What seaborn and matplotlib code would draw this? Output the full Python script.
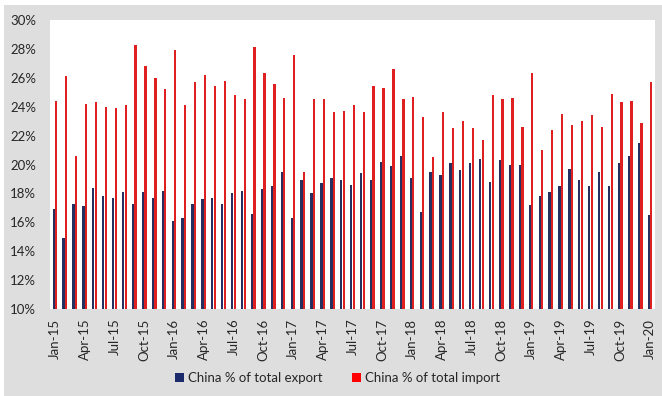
import matplotlib
matplotlib.use("Agg")
import matplotlib.pyplot as plt
import matplotlib.patches as mpatches
from matplotlib.ticker import FuncFormatter
import pandas as pd
import seaborn as sns

months = pd.date_range("2015-01-01", "2020-01-01", freq="MS").strftime("%b-%y").tolist()

export_share = [
    16.9, 14.9, 17.3, 17.1, 18.4, 17.8, 17.7, 18.1, 17.3, 18.1, 17.7, 18.2,
    16.1, 16.3, 17.3, 17.6, 17.7, 17.3, 18.0, 18.2, 16.6, 18.3, 18.5, 19.5,
    16.3, 18.9, 18.0, 18.7, 19.1, 18.9, 18.6, 19.4, 18.9, 20.2, 19.9, 20.6,
    19.1, 16.7, 19.5, 19.3, 20.1, 19.6, 20.1, 20.4, 18.8, 20.3, 20.0, 20.0,
    17.2, 17.8, 18.1, 18.5, 19.7, 18.9, 18.5, 19.5, 18.5, 20.1, 20.6, 21.5,
    16.5,
]
import_share = [
    24.4, 26.1, 20.6, 24.2, 24.3, 24.0, 23.9, 24.1, 28.3, 26.8, 26.0, 25.2,
    27.9, 24.1, 25.7, 26.2, 25.4, 25.8, 24.8, 24.5, 28.1, 26.3, 25.6, 24.6,
    27.6, 19.5, 24.5, 24.5, 23.6, 23.7, 24.1, 23.6, 25.4, 25.3, 26.6, 24.5,
    24.7, 23.3, 20.5, 23.6, 22.5, 23.0, 22.5, 21.7, 24.8, 24.5, 24.6, 22.6,
    26.3, 21.0, 22.4, 23.5, 22.7, 23.0, 23.4, 22.6, 24.9, 24.3, 24.4, 22.9,
    25.7,
]
series_names = ["China % of total export", "China % of total import"]
series_colors = ["#1b2a6b", "#ff0000"]

df = pd.DataFrame({
    "month": months * 2,
    "share": export_share + import_share,
    "series": [series_names[0]] * len(months) + [series_names[1]] * len(months),
})

sns.set_theme(style="white")
plt.rcParams["font.family"] = ["Lato", "DejaVu Sans"]

W, H = 662, 396
fig = plt.figure(figsize=(W / 100, H / 100), dpi=100, facecolor="white")

# grey panel behind the chart
fig.patches.append(mpatches.Rectangle((4 / W, 0), 1 - 4 / W, 1 - 5 / H,
                                      transform=fig.transFigure,
                                      facecolor="#dedede", edgecolor="none", zorder=-10))

ax = fig.add_axes([50 / W, (H - 309) / H, 605 / W, 289 / H])
ax.set_facecolor("white")

sns.barplot(data=df, x="month", y="share", hue="series", order=months,
            hue_order=series_names, palette=series_colors,
            width=0.52, gap=0.12, linewidth=0, ax=ax, legend=False)

ax.set_ylim(10, 30)
ax.set_xlim(-0.5, len(months) - 0.5)
ax.set_yticks(range(10, 31, 2))
ax.yaxis.set_major_formatter(FuncFormatter(lambda v, _: f"{v:.0f}%"))
ax.set_xticks(range(0, len(months), 3))
ax.set_xticklabels(months[::3], rotation=90)
ax.tick_params(axis="x", length=0, pad=7, labelsize=9.5, colors="#262626")
ax.tick_params(axis="y", length=0, pad=10, labelsize=9.5, colors="#262626")
ax.set_xlabel("")
ax.set_ylabel("")
for s in ax.spines.values():
    s.set_visible(False)

handles = [mpatches.Patch(facecolor=c, edgecolor="none", label=n)
           for n, c in zip(series_names, series_colors)]
fig.legend(handles=handles, loc="center", bbox_to_anchor=(0.51, 18 / H), ncol=2,
           frameon=False, fontsize=9.5, handlelength=0.7, handleheight=0.7,
           handletextpad=0.3, columnspacing=2.2, labelcolor="#262626")

fig.savefig("out.png", dpi=100, facecolor=fig.get_facecolor())
